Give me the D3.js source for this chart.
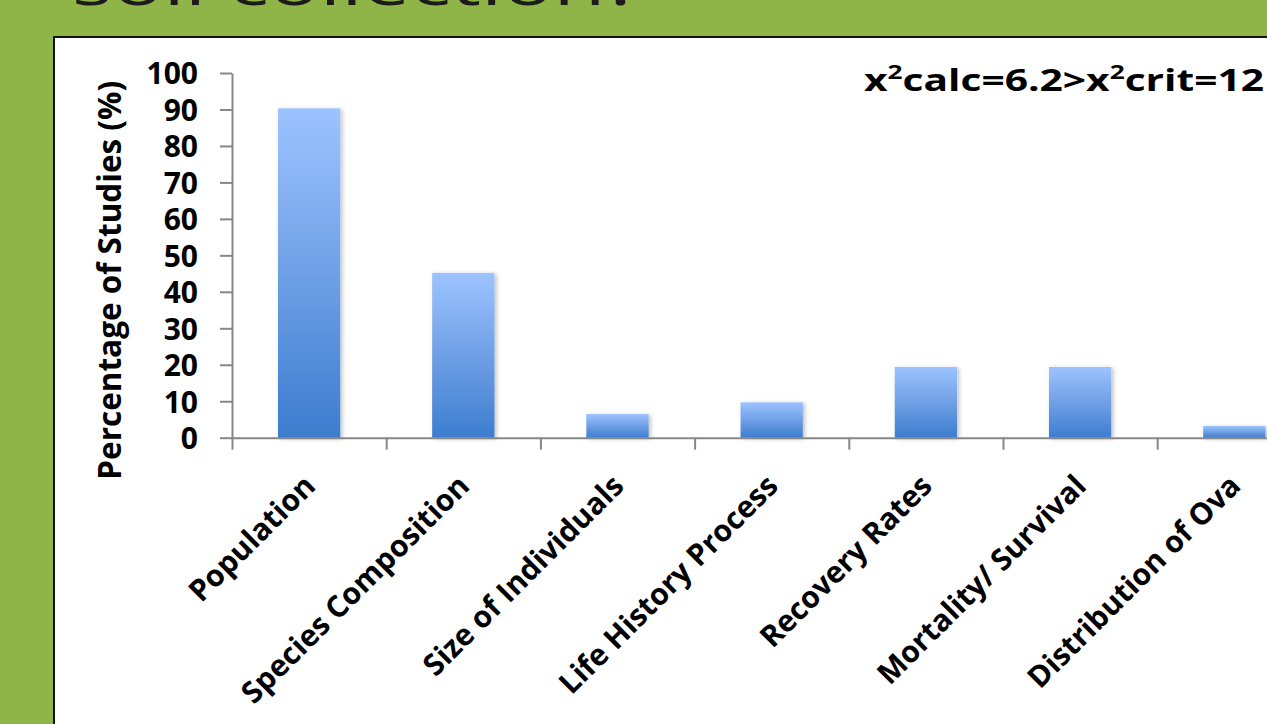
<!DOCTYPE html>
<html>
<head>
<meta charset="utf-8">
<script src="https://cdn.jsdelivr.net/npm/d3@7.9.0/dist/d3.min.js"></script>
<style>
  html, body { margin: 0; padding: 0; background: #8fb447; overflow: hidden; }
  svg { display: block; font-family: "Open Sans", Lato, sans-serif; }
</style>
</head>
<body>
<svg id="chart" width="1267" height="724"></svg>
<script>
// chart data
const categories = ['Population', 'Species Composition', 'Size of Individuals',
  'Life History Process', 'Recovery Rates', 'Mortality/ Survival', 'Distribution of Ova'];
const percentages = [90.3, 45.2, 6.5, 9.7, 19.4, 19.4, 3.2];
const yTicks = [0, 10, 20, 30, 40, 50, 60, 70, 80, 90, 100];

const svg = d3.select('#chart');

// slide background + heading cut off at the top
svg.append('rect').attr('width', 1267).attr('height', 724).attr('fill', '#8fb447');
svg.append('text')
  .attr('x', 72).attr('y', 5)
  .attr('font-size', 56)
  .attr('textLength', 570).attr('lengthAdjust', 'spacingAndGlyphs')
  .attr('fill', '#1b1b1b')
  .text('soil collection?');

// white panel with black border (runs off the right and bottom)
svg.append('rect')
  .attr('x', 54).attr('y', 37)
  .attr('width', 1300).attr('height', 760)
  .attr('fill', '#fff')
  .attr('stroke', '#111').attr('stroke-width', 2);

// plot geometry
const plotLeft = 232, plotBottom = 437.7, plotTop = 73, step = 154.2;

const y = d3.scaleLinear().domain([0, 100]).range([plotBottom, plotTop]);
const x = d3.scaleBand().domain(categories).range([plotLeft, plotLeft + step * categories.length]).padding(0);
const xEdge = d3.scaleLinear().domain([0, categories.length]).range(x.range());
const barW = x.bandwidth() * 0.404;

// gradient + soft shadow for the bars
const defs = svg.append('defs');
const grad = defs.append('linearGradient').attr('id', 'barGrad')
  .attr('x1', 0).attr('y1', 0).attr('x2', 0).attr('y2', 1);
grad.append('stop').attr('offset', '0%').attr('stop-color', '#9dc3ff');
grad.append('stop').attr('offset', '50%').attr('stop-color', '#6fa0e6');
grad.append('stop').attr('offset', '100%').attr('stop-color', '#3d7dcf');

const shadow = defs.append('filter').attr('id', 'shadow')
  .attr('x', '-20%').attr('y', '-20%').attr('width', '150%').attr('height', '150%');
shadow.append('feDropShadow')
  .attr('dx', 2).attr('dy', 1).attr('stdDeviation', 2)
  .attr('flood-color', '#000').attr('flood-opacity', 0.25);

// bars
svg.append('g').selectAll('rect')
  .data(categories)
  .join('rect')
  .attr('x', d => x(d) + (x.bandwidth() - barW) / 2)
  .attr('y', (d, i) => y(percentages[i]))
  .attr('width', barW)
  .attr('height', (d, i) => plotBottom - y(percentages[i]))
  .attr('fill', 'url(#barGrad)')
  .attr('filter', 'url(#shadow)');

// y axis
const yAxis = svg.append('g')
  .attr('transform', `translate(${plotLeft},0)`)
  .call(d3.axisLeft(y).tickValues(yTicks).tickSize(12).tickPadding(22).tickSizeOuter(0));
yAxis.select('.domain').attr('stroke', '#878787').attr('stroke-width', 2);
yAxis.selectAll('.tick line').attr('stroke', '#878787').attr('stroke-width', 2);
yAxis.selectAll('.tick text')
  .attr('font-family', '"Open Sans", sans-serif')
  .attr('font-size', 30).attr('font-weight', 'bold').attr('fill', '#000')
  .attr('dy', '0.36em');

// x axis: ticks on the category boundaries
const xAxis = svg.append('g')
  .attr('transform', `translate(0,${plotBottom})`)
  .call(d3.axisBottom(xEdge).tickValues(d3.range(categories.length + 1))
    .tickFormat('').tickSize(12).tickSizeOuter(0));
xAxis.select('.domain').attr('stroke', '#878787').attr('stroke-width', 2);
xAxis.selectAll('.tick line').attr('stroke', '#878787').attr('stroke-width', 2);

// rotated category labels
svg.append('g').selectAll('text')
  .data(categories)
  .join('text')
  .attr('transform', d => `translate(${x(d) + x.bandwidth() / 2 + 8},${plotBottom + 50}) rotate(-45)`)
  .attr('text-anchor', 'end')
  .attr('font-size', 30).attr('font-weight', 'bold').attr('fill', '#000')
  .text(d => d);

// y axis title
svg.append('text')
  .attr('transform', `translate(121,${(plotTop + plotBottom) / 2 + 25}) rotate(-90)`)
  .attr('text-anchor', 'middle')
  .attr('font-size', 31.5).attr('font-weight', 'bold').attr('fill', '#000')
  .text('Percentage of Studies (%)');

// chi-square note
const note = svg.append('text')
  .attr('x', 864).attr('y', 91)
  .attr('textLength', 400).attr('lengthAdjust', 'spacingAndGlyphs')
  .attr('font-size', 31).attr('font-weight', 'bold').attr('fill', '#000');
note.append('tspan').text('x');
note.append('tspan').attr('dy', -12).attr('font-size', 20).text('2');
note.append('tspan').attr('dy', 12).text('calc=6.2>x');
note.append('tspan').attr('dy', -12).attr('font-size', 20).text('2');
note.append('tspan').attr('dy', 12).text('crit=12');
</script>
</body>
</html>
